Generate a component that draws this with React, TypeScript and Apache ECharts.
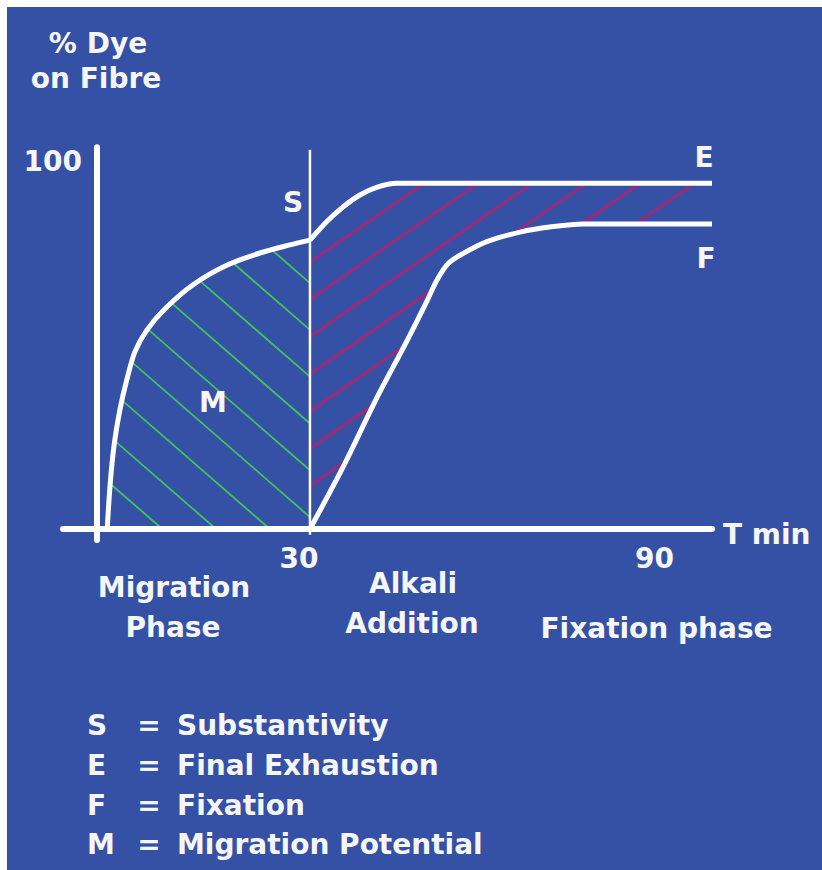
import React, { useEffect, useRef } from 'react';
import * as echarts from 'echarts';

const FONT = '"DejaVu Sans", "Liberation Sans", sans-serif';

// Curves (x: schematic minutes, y: % dye on fibre)
const migrationCurve: [number, number][] = [
  [-5.3, 0], [-4.8, 12.0], [-4.1, 22.9], [-3.1, 32.4], [-1.9, 40.6], [-0.5, 48.2],
  [1.6, 54.2], [4.9, 60.2], [9.6, 66.5], [15.6, 71.9], [21.3, 75.2], [26.5, 77.4], [30, 78.7],
];
const exhaustionCurve: [number, number][] = [
  [30, 78.7], [32.9, 83.7], [35.8, 87.8], [38.7, 91.0], [41.6, 93.1], [45.1, 94.2], [100, 94.2],
];
const fixationCurve: [number, number][] = [
  [30, 0], [35.8, 17.0], [41.6, 35.6], [46.8, 51.0], [50.3, 61.9], [52.1, 67.8], [54.1, 72.4],
  [56.7, 75.1], [60.8, 78.3], [66.6, 80.9], [72.4, 82.4], [77.6, 83.1], [100, 83.1],
];
const alkaliLine: [number, number][] = [[30, -1.6], [30, 103.3]];

const xTickValues = [30, 90];
const yTickValues = [100];

const legendKeys = ['S', 'E', 'F', 'M'];
const legendTexts = ['Substantivity', 'Final Exhaustion', 'Fixation', 'Migration Potential'];

// hatch regions
const migrationRegion: [number, number][] = [...migrationCurve, [30, 0]];
const fixationRegion: [number, number][] = [...exhaustionCurve, ...fixationCurve.slice().reverse()];

const hatches = [
  { region: migrationRegion, anchor: [30, 67], slope: 0.87, gap: 46.8, color: '#42c25e', width: 1.8 },
  { region: fixationRegion, anchor: [30, 72.7], slope: -0.69, gap: 37.3, color: '#962b78', width: 3.2 },
];

export default function App() {
  const ref = useRef<HTMLDivElement>(null);

  useEffect(() => {
    if (!ref.current) return;
    const chart = echarts.init(ref.current, undefined, { renderer: 'svg' });
    const white = '#ffffff';
    const textFill = '#f6f6f6';
    const font = `bold 28px ${FONT}`;

    const txt = (text: string, x: number, y: number, align: string = 'center') => ({
      type: 'text',
      x,
      y,
      silent: true,
      z: 10,
      style: {
        text,
        fill: textFill,
        font,
        align,
        textAlign: align,
        verticalAlign: 'middle',
        textVerticalAlign: 'middle',
      },
    });

    const legendRows = [718, 758, 798, 837];
    const graphics: any[] = [
      txt('% Dye', 91, 36.5),
      txt('on Fibre', 89, 71.5),
      txt('S', 286, 195),
      txt('E', 697, 150),
      txt('F', 699, 251),
      txt('M', 206, 395),
      txt('T min', 716, 527.5, 'left'),
      txt('Migration', 167, 580.5),
      txt('Phase', 166, 620),
      txt('Alkali', 406, 576),
      txt('Addition', 405, 616),
      txt('Fixation phase', 649.5, 621),
    ];
    legendKeys.forEach((k, i) => {
      graphics.push(txt(k, 80, legendRows[i], 'left'));
      graphics.push(txt('=', 142, legendRows[i]));
      graphics.push(txt(legendTexts[i], 170, legendRows[i], 'left'));
    });

    const curveSeries = (data: [number, number][], width: number) => ({
      type: 'line',
      data,
      smooth: 0.3,
      symbol: 'none',
      silent: true,
      z: 3,
      lineStyle: { color: white, width },
    });

    const renderHatch = (_params: any, api: any) => {
      const children: any[] = [];
      hatches.forEach((h) => {
        const pts = h.region.map((p) => api.coord(p));
        const a = api.coord(h.anchor);
        const m = h.slope;
        const c0 = a[1] - m * a[0];
        const cs = pts.map((p: number[]) => p[1] - m * p[0]);
        const cmin = Math.min(...cs);
        const cmax = Math.max(...cs);
        const kStart = Math.ceil((cmin - c0) / h.gap);
        const kEnd = Math.floor((cmax - c0) / h.gap);
        for (let k = kStart; k <= kEnd; k++) {
          const c = c0 + k * h.gap;
          const xs: number[] = [];
          for (let i = 0; i < pts.length; i++) {
            const A = pts[i];
            const B = pts[(i + 1) % pts.length];
            const fa = A[1] - m * A[0] - c;
            const fb = B[1] - m * B[0] - c;
            if ((fa > 0) !== (fb > 0)) {
              const t = fa / (fa - fb);
              xs.push(A[0] + t * (B[0] - A[0]));
            }
          }
          xs.sort((p, q) => p - q);
          for (let j = 0; j + 1 < xs.length; j += 2) {
            const x1 = xs[j];
            const x2 = xs[j + 1];
            const len = (x2 - x1) * Math.sqrt(1 + m * m);
            if (len < 32) continue;
            children.push({
              type: 'line',
              shape: { x1, y1: m * x1 + c, x2, y2: m * x2 + c },
              style: { stroke: h.color, lineWidth: h.width },
            });
          }
        }
      });
      return { type: 'group', children };
    };

    chart.setOption({
      animation: false,
      backgroundColor: '#3451a6',
      grid: { left: 56, top: 140.3, width: 649, height: 392.7 },
      xAxis: {
        type: 'value',
        min: -13,
        max: 100,
        z: 5,
        splitLine: { show: false },
        axisTick: { show: false },
        axisLine: { show: true, onZero: true, lineStyle: { color: white, width: 6 } },
        axisLabel: {
          customValues: xTickValues,
          margin: 4,
          color: textFill,
          fontFamily: FONT,
          fontWeight: 'bold',
          fontSize: 28,
          formatter: (v: number) => (v === 30 ? `{l|${v}}` : `{n|${v}}`),
          rich: {
            l: { padding: [0, 22, 0, 0], color: textFill, fontFamily: FONT, fontWeight: 'bold', fontSize: 28 },
            n: { color: textFill, fontFamily: FONT, fontWeight: 'bold', fontSize: 28 },
          },
        },
      },
      yAxis: {
        type: 'value',
        min: -3,
        max: 104,
        offset: -33.5,
        z: 5,
        splitLine: { show: false },
        axisTick: { show: false },
        axisLine: { show: true, onZero: false, lineStyle: { color: white, width: 6 } },
        axisLabel: {
          customValues: yTickValues,
          margin: 14.5,
          color: textFill,
          fontFamily: FONT,
          fontWeight: 'bold',
          fontSize: 28,
          formatter: (v: number) => String(v),
        },
      },
      graphic: { elements: graphics },
      series: [
        {
          type: 'custom',
          data: [[0, 0]],
          silent: true,
          z: 1,
          clip: false,
          renderItem: renderHatch,
        },
        curveSeries(migrationCurve, 5),
        curveSeries(exhaustionCurve, 5),
        curveSeries(fixationCurve, 5),
        { ...curveSeries(alkaliLine, 2.5), smooth: false },
      ],
    });

    return () => chart.dispose();
  }, []);

  return (
    <div
      ref={ref}
      style={{ position: 'absolute', left: 7, top: 7, width: 815, height: 863 }}
    />
  );
}
